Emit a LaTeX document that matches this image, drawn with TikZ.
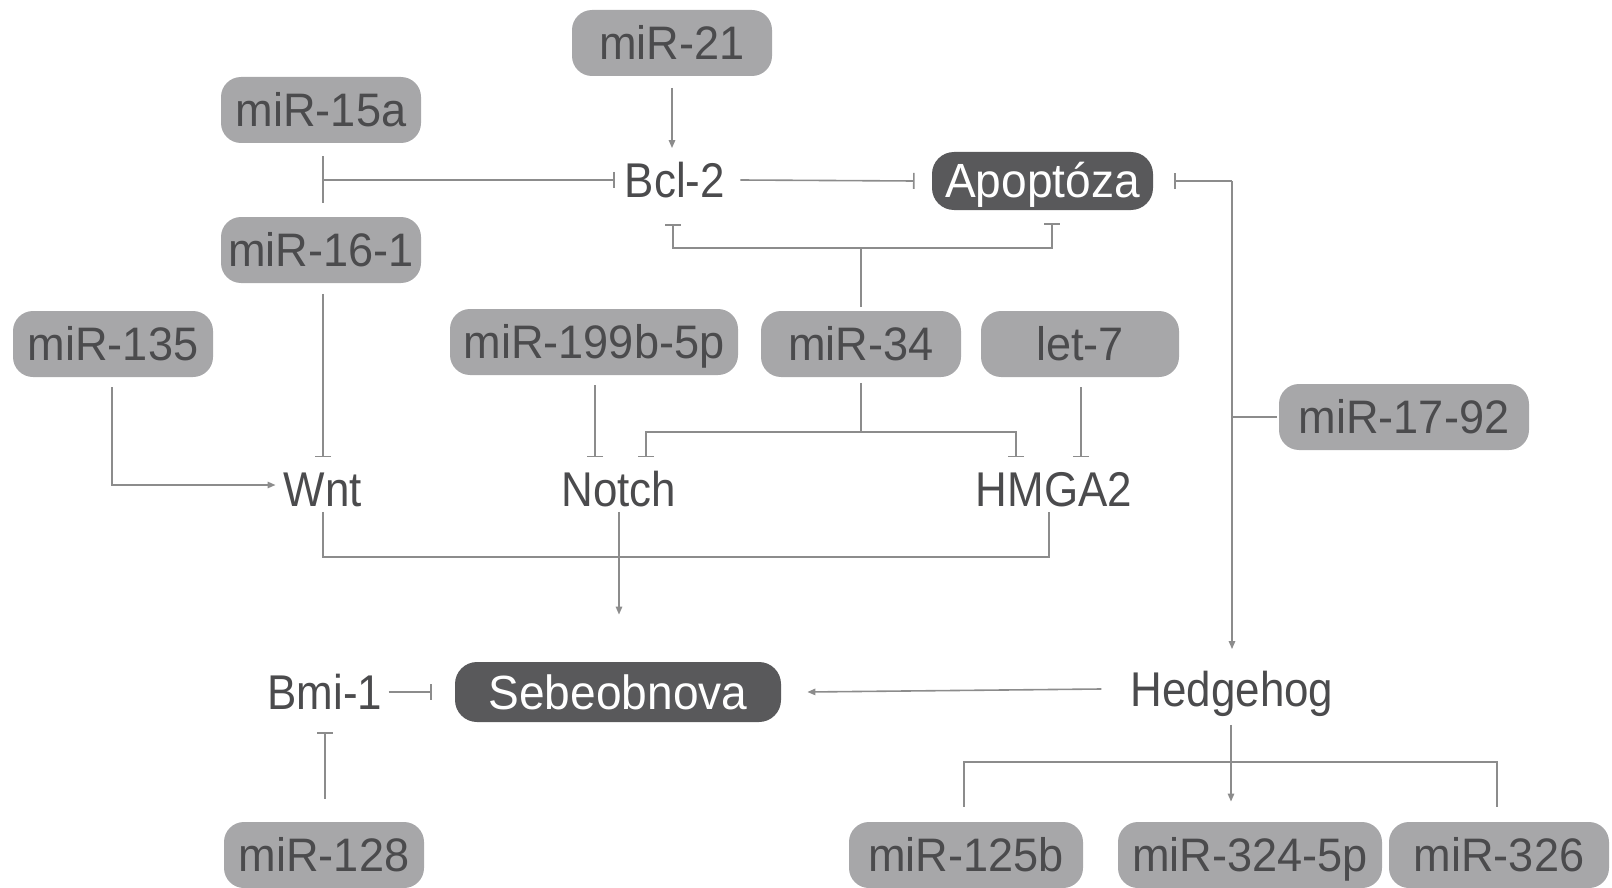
\documentclass[tikz,border=0pt]{standalone}
\usepackage{fontspec}
\setmainfont{Liberation Sans}
\newfontfamily\lblfont[FakeStretch=0.9]{Liberation Sans}
\newfontfamily\boxfont[FakeStretch=0.96]{Liberation Sans}
\usetikzlibrary{arrows.meta}
\definecolor{boxgray}{HTML}{A7A7A9}
\definecolor{darkbox}{HTML}{59595B}
\definecolor{txtgray}{HTML}{4B4B4D}
\definecolor{linegray}{HTML}{8C8C8C}
\begin{document}
\begin{tikzpicture}[x=0.5pt,y=-0.5pt,
  lbox/.style={rounded corners=10pt, fill=boxgray, text=txtgray, minimum height=33pt,
    inner sep=0pt, font=\boxfont\fontsize{23.5}{28}\selectfont, text height=16.8pt, text depth=0pt},
  dbox/.style={rounded corners=11pt, fill=darkbox, text=white, minimum height=29pt,
    inner sep=0pt, font=\boxfont\fontsize{24}{28}\selectfont, text height=17pt, text depth=0pt},
  lbl/.style={text=txtgray, inner sep=0pt, font=\lblfont\fontsize{24.4}{29}\selectfont,
    text height=17.5pt, text depth=0pt},
  conn/.style={draw=linegray, line width=0.8pt},
  act/.style={conn, -{Triangle[length=4pt,width=3.2pt]}},
  inh/.style={conn, -{Bar[width=8pt,line width=0.8pt]}}
]
\useasboundingbox (0,0) rectangle (1612,888);
\clip (0,0) rectangle (1612,888);

% nodes
\node[lbox, minimum width=100pt] (m21)  at (672,43)  {miR-21};
\node[lbox, minimum width=100pt] (m15a) at (321,110) {miR-15a};
\node[lbl] (bcl) at (675,180) {Bcl-2};
\node[dbox, minimum width=110.5pt] (apo) at (1042.5,181) {Apoptóza};
\node[lbox, minimum width=100pt] (m161) at (321,250) {miR-16-1};
\node[lbox, minimum width=100pt] (m135) at (113,344) {miR-135};
\node[lbox, minimum width=144pt] (m199) at (594,342) {miR-199b-5p};
\node[lbox, minimum width=100pt] (m34)  at (861,344) {miR-34};
\node[lbox, minimum width=99pt]  (let7) at (1080,344) {let-7};
\node[lbox, minimum width=125pt] (m1792) at (1404,417) {miR-17-92};
\node[lbl] (wnt)   at (323,489)  {Wnt};
\node[lbl] (notch) at (619,489)  {Notch};
\node[lbl] (hmga)  at (1054,489) {HMGA2};
\node[lbl] (bmi)   at (325,692)  {Bmi-1};
\node[dbox, minimum width=163pt, minimum height=30pt] (seb) at (618,692) {Sebeobnova};
\node[lbl] (hh)    at (1232,689) {Hedgehog};
\node[lbox, minimum width=100pt] (m128) at (324,855)  {miR-128};
\node[lbox, minimum width=117pt] (m125) at (966,855)  {miR-125b};
\node[lbox, minimum width=132pt] (m324) at (1250,855) {miR-324-5p};
\node[lbox, minimum width=110pt] (m326) at (1499,855) {miR-326};

% junction coordinates
\coordinate (j34t) at (861,248);
\coordinate (j34b) at (861,432);
\coordinate (jwh)  at (619,557);
\coordinate (jbr)  at (1231,762);

% miR-21 -> Bcl-2
\draw[act] ([yshift=-5.75pt]m21.south) -- ([yshift=7pt]m21.south |- bcl.north);
% miR-15a / miR-16-1 -| Bcl-2
\draw[conn] ([xshift=1pt,yshift=-6.5pt]m15a.south) -- ([xshift=1pt,yshift=6.75pt]m161.north);
\draw[inh] ([xshift=1pt]m15a.south |- bcl.west) -- ([xshift=-5pt]bcl.west);
% Bcl-2 -| Apoptoza
\draw[inh] ([xshift=7.5pt]bcl.east) -- ([xshift=-8.5pt]apo.west);
% miR-17-92
\draw[conn] ([xshift=-1pt]m1792.west) -- (hh.north |- m1792.west);
\draw[inh] (hh.north |- apo.east) -- ([xshift=10.5pt]apo.east);
\draw[act] (hh.north |- apo.east) -- ([yshift=11pt]hh.north);
% miR-34 top
\draw[conn] ([yshift=1.75pt]m34.north) -- (j34t);
\draw[inh] (j34t) -| ([xshift=-1pt,yshift=-13pt]bcl.south);
\draw[inh] (j34t) -| ([xshift=4.75pt,yshift=-6.5pt]apo.south);
% miR-34 bottom
\draw[conn] ([yshift=-2.75pt]m34.south) -- (j34b);
\draw[inh] (j34b) -| ([xshift=13.5pt,yshift=7pt]notch.north);
\draw[inh] (j34b) -| ([xshift=-19pt,yshift=7pt]hmga.north);
% miR-199b-5p -| Notch
\draw[inh] ([xshift=0.5pt,yshift=-5pt]m199.south) -- ([xshift=0.5pt,yshift=7pt]m199.south |- notch.north);
% let-7 -| HMGA2
\draw[inh] ([xshift=0.5pt,yshift=-5pt]let7.south) -- ([xshift=0.5pt,yshift=7pt]let7.south |- hmga.north);
% miR-16-1 -| Wnt
\draw[inh] ([xshift=1pt,yshift=-5.25pt]m161.south) -- ([xshift=1pt,yshift=7pt]m161.south |- wnt.north);
% miR-135 -> Wnt
\draw[act] ([xshift=-0.5pt,yshift=-5pt]m135.south) |- ([xshift=-4pt,yshift=2pt]wnt.west);
% Wnt / HMGA2 join
\draw[conn] ([yshift=-2.5pt]wnt.south) -- (wnt.south |- jwh) -- ([xshift=-2.5pt]hmga.south |- jwh) -- ([xshift=-2.5pt,yshift=-2.5pt]hmga.south);
% Notch -> Sebeobnova
\draw[act] ([yshift=-2.5pt]notch.south) -- ([yshift=23.5pt]notch.south |- seb.north);
% Hedgehog -> Sebeobnova
\draw[act] ([xshift=-14.5pt]hh.west) -- ([xshift=13pt]seb.east);
% Bmi-1 -| Sebeobnova
\draw[inh] ([xshift=3pt]bmi.east) -- ([xshift=-11.5pt]seb.west);
% miR-128 -| Bmi-1
\draw[inh] ([xshift=0.5pt,yshift=11.5pt]m128.north) -- ([xshift=0.5pt,yshift=-11pt]m128.north |- bmi.south);
% Hedgehog -> miR-324-5p
\draw[act] ([xshift=-0.5pt,yshift=-9pt]hh.south) -- ([xshift=-0.5pt,yshift=10pt]hh.south |- m324.north);
% bracket miR-125b / miR-326
\draw[conn] ([xshift=-1pt,yshift=7.5pt]m125.north) |- (jbr) -| ([xshift=-1pt,yshift=7.5pt]m326.north);
\end{tikzpicture}
\end{document}
